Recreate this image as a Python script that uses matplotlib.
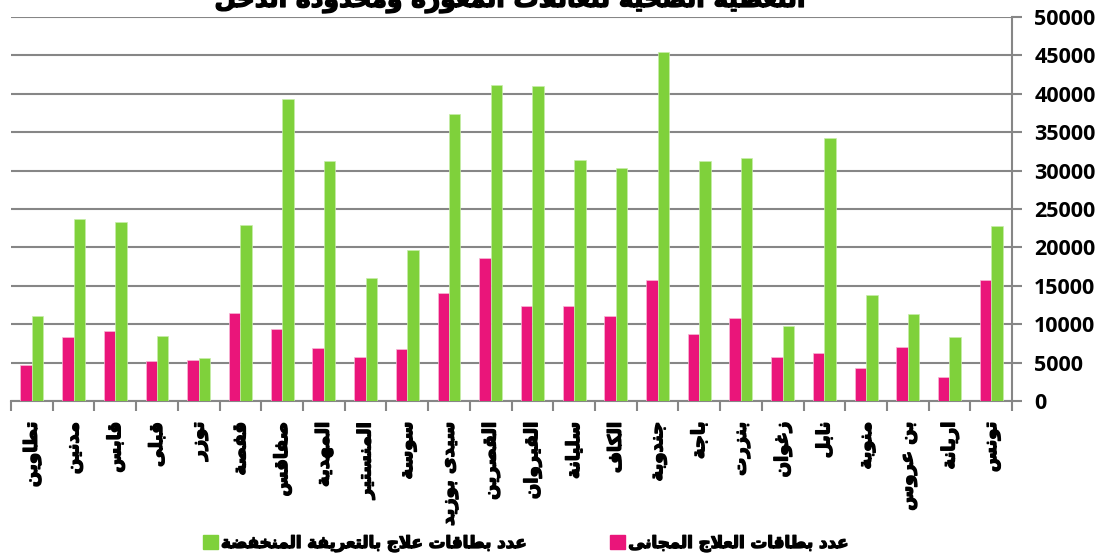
import numpy as np
import matplotlib

matplotlib.use("Agg")
import matplotlib.pyplot as plt
import matplotlib.patheffects as pe
from matplotlib.patches import Patch

# Data
governorates = [
    "تطاوين", "مدنين", "قابس", "قبلى", "توزر", "قفصة", "صفاقس", "المهدية",
    "المنستير", "سوسة", "سيدى بوزيد", "القصرين", "القيروان", "سليانة", "الكاف",
    "جندوبة", "باجة", "بنزرت", "زغوان", "نابل", "منوبة", "بن عروس", "اريانة", "تونس",
]
free_cards = [
    4750, 8300, 9130, 5260, 5390, 11520, 9390, 6870, 5780, 6830, 14000, 18650,
    12390, 12430, 11130, 15780, 8780, 10830, 5740, 6220, 4350, 7000, 3170, 15700,
]
reduced_cards = [
    11130, 23700, 23350, 8520, 5650, 22960, 39300, 31200, 16000, 19600, 37350, 41200,
    41000, 31390, 30350, 45390, 31300, 31600, 9780, 34300, 13780, 11350, 8350, 22780,
]
title = "التغطية الصحية للعائلات المعوزة ومحدودة الدخل"
label_free = "عدد بطاقات العلاج المجانى"
label_reduced = "عدد بطاقات علاج بالتعريفة المنخفضة"

PINK = "#EA157A"
GREEN = "#7FD13B"
GRID = "#868686"

# matplotlib has no Arabic shaping: map letters to presentation forms, then reverse
_letters = [
    ("ء", 1), ("آ", 2), ("أ", 2), ("ؤ", 2), ("إ", 2), ("ئ", 4), ("ا", 2), ("ب", 4),
    ("ة", 2), ("ت", 4), ("ث", 4), ("ج", 4), ("ح", 4), ("خ", 4), ("د", 2), ("ذ", 2),
    ("ر", 2), ("ز", 2), ("س", 4), ("ش", 4), ("ص", 4), ("ض", 4), ("ط", 4), ("ظ", 4),
    ("ع", 4), ("غ", 4), ("ف", 4), ("ق", 4), ("ك", 4), ("ل", 4), ("م", 4), ("ن", 4),
    ("ه", 4), ("و", 2), ("ى", 2), ("ي", 4),
]
FORMS = {}
_cp = 0xFE80
for ch, n in _letters:
    FORMS[ch] = [chr(_cp + k) for k in range(n)]
    _cp += n
LAM_ALEF = {"آ": 0xFEF5, "أ": 0xFEF7, "إ": 0xFEF9, "ا": 0xFEFB}


def shape(text):
    out = []
    i = 0
    while i < len(text):
        c = text[i]
        if c not in FORMS:
            out.append(c)
            i += 1
            continue
        prev = text[i - 1] if i > 0 else None
        join_prev = prev in FORMS and len(FORMS[prev]) == 4
        nxt = text[i + 1] if i + 1 < len(text) else None
        if c == "ل" and nxt in LAM_ALEF:
            out.append(chr(LAM_ALEF[nxt] + (1 if join_prev else 0)))
            i += 2
            continue
        forms = FORMS[c]
        join_next = len(forms) == 4 and nxt in FORMS
        if len(forms) == 1:
            g = forms[0]
        elif join_prev and join_next:
            g = forms[3]
        elif join_next:
            g = forms[2]
        elif join_prev:
            g = forms[1]
        else:
            g = forms[0]
        out.append(g)
        i += 1
    return "".join(reversed(out))


# the Arabic glyphs only come in the regular weight, so thicken them with a stroke
heavy = [pe.withStroke(linewidth=1.0, foreground="black")]
ar = dict(family="DejaVu Sans", fontweight="bold")

fig = plt.figure(figsize=(11.13, 5.6), dpi=100)
ax = fig.add_axes([0.0099, 0.2839, 0.8994, 0.6857])

x = np.arange(len(governorates))
w = 0.275
ax.bar(x - w / 2, free_cards, w, color=PINK, edgecolor="#f7b9d6", linewidth=0.5, zorder=3)
ax.bar(x + w / 2, reduced_cards, w, color=GREEN, edgecolor="#c8eda9", linewidth=0.5, zorder=3)

ax.set_xlim(-0.5, len(governorates) - 0.5)
ax.set_ylim(0, 50000)
ax.yaxis.tick_right()
yt = np.arange(0, 50001, 5000)
ax.set_yticks(yt, labels=[str(v) for v in yt], family="Open Sans", fontweight="bold",
              fontsize=15.5)
ax.grid(axis="y", color=GRID, linewidth=1.5, zorder=0)
ax.set_axisbelow(True)

for side in ["top", "left"]:
    ax.spines[side].set_visible(False)
for side in ["bottom", "right"]:
    ax.spines[side].set_color(GRID)
    ax.spines[side].set_linewidth(1.5)

ax.tick_params(axis="y", length=7, width=1.5, color=GRID, pad=9)

ax.set_xticks(x)
ax.set_xticklabels([shape(g) for g in governorates], rotation=90, va="top",
                   ha="center", fontsize=13, path_effects=heavy, **ar)
ax.set_xticks(np.arange(-0.5, len(governorates)), minor=True)
ax.tick_params(axis="x", which="major", length=0, pad=15)
ax.tick_params(axis="x", which="minor", length=7, width=1.5, color=GRID)

fig.text(0.459, 1 - 13 / 560, shape(title), ha="center", va="bottom", fontsize=18,
         path_effects=heavy, **ar)

handles = [Patch(color=GREEN, label=shape(label_reduced)),
           Patch(color=PINK, label=shape(label_free))]
leg = fig.legend(handles=handles, loc="center", bbox_to_anchor=(0.472, 1 - 543 / 560), ncol=2,
                 frameon=False, prop=dict(family="DejaVu Sans", weight="bold", size=12),
                 handlelength=0.9, handleheight=0.9, handletextpad=0.2, columnspacing=5.0)
for t in leg.get_texts():
    t.set_path_effects(heavy)

fig.savefig("out.png", dpi=100)
